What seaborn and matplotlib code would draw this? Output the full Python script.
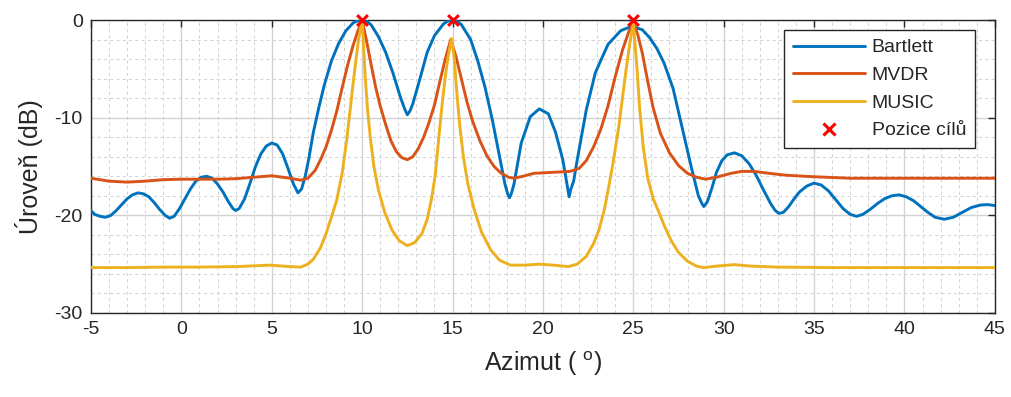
import matplotlib
matplotlib.use("Agg")
import matplotlib.pyplot as plt
from matplotlib.lines import Line2D
from matplotlib.ticker import MultipleLocator
import numpy as np
import pandas as pd
import seaborn as sns

# ---------------- data ----------------
bartlett_az = [-5, -4.8, -4.5, -4.2, -3.9, -3.6, -3.3, -3.0, -2.7, -2.4, -2.1, -1.8, -1.5, -1.2,
               -0.9, -0.65, -0.4, -0.1, 0.2, 0.5, 0.8, 1.1, 1.4, 1.7, 2.0, 2.3, 2.6, 2.85, 3.0,
               3.2, 3.5, 3.8, 4.1, 4.4, 4.7, 5.0, 5.3, 5.6, 5.9, 6.2, 6.45, 6.65, 6.85, 7.05,
               7.3, 7.6, 7.9, 8.3, 8.7, 9.1, 9.5, 9.75, 10, 10.25, 10.5, 10.9, 11.3, 11.7, 12.1,
               12.35, 12.5, 12.65, 12.8, 13.2, 13.6, 14.0, 14.5, 14.75, 15, 15.25, 15.5, 16.0,
               16.4, 16.8, 17.2, 17.6, 17.9, 18.05, 18.15, 18.25, 18.4, 18.8, 19.3, 19.8, 20.3,
               20.7, 21.1, 21.35, 21.45, 21.55, 21.7, 21.9, 22.4, 22.9, 23.6, 24.3, 24.7, 25.0,
               25.5, 25.9, 26.3, 26.7, 27.2, 27.6, 28.2, 28.6, 28.8, 28.9, 29.1, 29.35, 29.6,
               29.9, 30.2, 30.6, 31.0, 31.4, 31.8, 32.2, 32.6, 32.85, 33.05, 33.3, 33.6, 33.9,
               34.2, 34.6, 35.0, 35.4, 35.8, 36.2, 36.6, 37.0, 37.35, 37.7, 38.1, 38.5, 38.9,
               39.3, 39.7, 40.1, 40.5, 40.9, 41.3, 41.7, 42.2, 42.7, 43.2, 43.7, 44.2, 44.6, 45]
bartlett_db = [-19.5, -19.9, -20.1, -20.2, -20.0, -19.5, -18.9, -18.3, -17.9, -17.7, -17.8, -18.1,
               -18.7, -19.4, -20.0, -20.3, -20.1, -19.3, -18.3, -17.3, -16.5, -16.1, -16.0, -16.2,
               -16.8, -17.6, -18.6, -19.3, -19.5, -19.3, -18.3, -16.7, -15.0, -13.7, -12.9, -12.6,
               -12.8, -13.7, -15.2, -16.8, -17.7, -17.3, -16.0, -14.2, -11.5, -9.0, -6.7, -4.2,
               -2.4, -1.1, -0.3, -0.08, 0.0, -0.12, -0.5, -1.7, -3.3, -5.4, -7.8, -9.1, -9.7,
               -9.3, -8.6, -6.0, -3.3, -1.6, -0.4, -0.1, 0.0, -0.12, -0.5, -2.0, -4.2, -6.9,
               -10.2, -14.0, -16.8, -17.8, -18.2, -17.8, -16.8, -12.6, -9.9, -9.1, -9.6, -11.5,
               -14.3, -17.0, -18.1, -17.3, -16.5, -14.3, -9.2, -5.4, -2.5, -1.1, -0.8, -0.7,
               -1.0, -1.8, -2.9, -4.4, -7.0, -10.2, -15.0, -18.0, -18.8, -19.1, -18.6, -17.2,
               -15.6, -14.4, -13.8, -13.6, -13.9, -14.7, -15.9, -17.4, -18.8, -19.5, -19.8, -19.7,
               -19.1, -18.3, -17.6, -17.0, -16.7, -16.9, -17.5, -18.4, -19.3, -19.9, -20.1, -19.9,
               -19.4, -18.8, -18.3, -18.0, -17.9, -18.1, -18.5, -19.1, -19.7, -20.2, -20.4, -20.2,
               -19.7, -19.2, -18.95, -18.9, -19.0]

mvdr_az = [-5, -4, -3, -2, -1, 0, 1, 2, 3, 4, 5, 6, 6.6, 7.0, 7.4, 7.7, 8.0, 8.3, 8.6, 8.9, 9.2,
           9.5, 9.75, 10, 10.25, 10.5, 10.75, 11.0, 11.3, 11.6, 11.9, 12.2, 12.5, 12.8, 13.1,
           13.4, 13.7, 14.0, 14.3, 14.6, 14.9, 15.2, 15.5, 15.8, 16.1, 16.5, 16.9, 17.3, 17.7,
           18.1, 18.4, 18.9, 19.5, 20.5, 21.5, 22.0, 22.4, 22.8, 23.2, 23.6, 24.0, 24.4, 24.75,
           25, 25.25, 25.5, 25.8, 26.1, 26.5, 27.0, 27.5, 28.0, 28.5, 29.0, 29.6, 30.4, 31.0,
           31.7, 32.5, 33.5, 35, 37, 40, 45]
mvdr_db = [-16.2, -16.5, -16.6, -16.5, -16.35, -16.3, -16.3, -16.3, -16.25, -16.1, -15.95, -16.2,
           -16.4, -16.2, -15.4, -14.3, -13.0, -11.3, -9.3, -6.9, -4.6, -2.6, -1.2, 0.0, -2.2,
           -4.6, -6.9, -8.8, -10.7, -12.4, -13.5, -14.1, -14.3, -14.0, -13.2, -12.0, -10.5,
           -8.7, -6.3, -4.0, -2.0, -3.8, -6.1, -8.4, -10.3, -12.3, -13.9, -15.0, -15.7, -16.1,
           -16.2, -16.0, -15.7, -15.6, -15.5, -15.2, -14.4, -13.0, -11.2, -8.8, -5.8, -3.1,
           -1.2, -0.3, -1.5, -3.4, -6.3, -9.0, -11.6, -13.6, -14.9, -15.7, -16.1, -16.3, -16.1,
           -15.7, -15.5, -15.5, -15.7, -15.9, -16.05, -16.2, -16.2, -16.2]

music_az = [-5, -3, -1, 1, 3, 4.9, 6.0, 6.6, 7.0, 7.3, 7.7, 8.0, 8.3, 8.6, 8.9, 9.15, 9.35, 9.5,
            9.65, 9.8, 10, 10.17, 10.3, 10.45, 10.65, 10.9, 11.25, 11.65, 12.05, 12.5, 12.9,
            13.3, 13.6, 13.85, 14.05, 14.3, 14.45, 14.6, 14.75, 14.95, 15.1, 15.24, 15.4, 15.6,
            15.85, 16.2, 16.6, 17.1, 17.6, 18.2, 19.0, 19.8, 20.6, 21.4, 21.9, 22.4, 22.8, 23.1,
            23.4, 23.65, 23.9, 24.2, 24.4, 24.6, 24.8, 25, 25.2, 25.35, 25.55, 25.8, 26.1, 26.4,
            26.7, 27.1, 27.5, 28.0, 28.5, 28.9, 29.6, 30.6, 31.5, 33, 36, 40, 45]
music_db = [-25.35, -25.35, -25.3, -25.3, -25.25, -25.1, -25.25, -25.3, -25.0, -24.5, -23.3,
            -21.9, -20.2, -18.4, -15.6, -12.2, -9.0, -6.5, -4.2, -2.0, 0.0, -5.8, -9.2, -12.0,
            -15.0, -17.4, -19.7, -21.5, -22.6, -23.1, -22.8, -21.9, -20.4, -18.2, -15.8, -10.9,
            -8.2, -5.8, -3.8, -1.9, -4.0, -7.5, -10.8, -14.0, -16.8, -19.4, -21.7, -23.5, -24.6,
            -25.1, -25.1, -25.0, -25.1, -25.25, -25.0, -24.2, -22.9, -21.5, -19.4, -17.0, -14.4,
            -10.9, -8.0, -5.1, -2.5, -0.3, -4.8, -9.0, -13.0, -16.2, -18.3, -19.6, -21.0, -22.6,
            -23.8, -24.7, -25.2, -25.35, -25.2, -25.05, -25.2, -25.3, -25.35, -25.35, -25.35]

target_az = [10, 15, 25]
target_db = [0, 0, 0]

series_names = ["Bartlett", "MVDR", "MUSIC"]
target_name = "Pozice cílů"
xticks = [-5, 0, 5, 10, 15, 20, 25, 30, 35, 40, 45]
yticks = [-30, -20, -10, 0]

# ---------------- style ----------------
sns.set_style("white")
plt.rcParams["font.family"] = ["Liberation Sans", "DejaVu Sans"]
plt.rcParams["mathtext.fontset"] = "custom"
plt.rcParams["mathtext.rm"] = "Liberation Sans"
plt.rcParams["mathtext.it"] = "Liberation Sans"
plt.rcParams["axes.unicode_minus"] = False
plt.rcParams["lines.solid_joinstyle"] = "round"

colors = ["#0072BD", "#D95319", "#EDB120"]
LW = 2.1

df = pd.concat([
    pd.DataFrame({"az": bartlett_az, "db": bartlett_db, "metoda": series_names[0]}),
    pd.DataFrame({"az": mvdr_az, "db": mvdr_db, "metoda": series_names[1]}),
    pd.DataFrame({"az": music_az, "db": music_db, "metoda": series_names[2]}),
], ignore_index=True)
tg = pd.DataFrame({"az": target_az, "db": target_db})

fig = plt.figure(figsize=(10.11, 3.97), dpi=100)
ax = fig.add_axes([0.090, 0.2116, 0.894, 0.738])

for name, c in zip(series_names, colors):
    sns.lineplot(data=df[df["metoda"] == name], x="az", y="db", color=c, linewidth=LW,
                 estimator=None, sort=False, ax=ax, legend=False, zorder=3)
sns.scatterplot(data=tg, x="az", y="db", marker="x", color="#FF0000", s=60, linewidth=2.2,
                ax=ax, legend=False, zorder=5, clip_on=False)

ax.set_xlim(-5, 45)
ax.set_ylim(-30, 0)
ax.set_xticks(xticks)
ax.set_yticks(yticks)
ax.xaxis.set_minor_locator(MultipleLocator(1))
ax.yaxis.set_minor_locator(MultipleLocator(2))
ax.grid(which="major", color="#d2d2d2", lw=1.0, ls="-", zorder=0)
ax.grid(which="minor", color="#d4d4d4", lw=0.75, ls=(0, (3, 3)), zorder=0)
ax.set_axisbelow(True)
ax.tick_params(which="major", direction="in", length=5, width=1, colors="#262626",
               top=True, right=True, labelsize=14, pad=6)
ax.tick_params(which="minor", direction="in", length=0, top=True, right=True)
for s in ax.spines.values():
    s.set_color("#262626")
    s.set_linewidth(1.0)
    s.set_visible(True)

ax.set_xlabel("Azimut ( $^{\\mathrm{o}}$)", fontsize=18, color="#262626", labelpad=8)
ax.set_ylabel("Úroveň (dB)", fontsize=18, color="#262626", labelpad=8)

handles = [Line2D([0], [0], color=c, lw=LW) for c in colors]
handles.append(Line2D([0], [0], color="#FF0000", marker="x", ls="none", ms=8, mew=2.2))
leg = ax.legend(handles, series_names + [target_name], loc="upper right",
                bbox_to_anchor=(0.978, 0.966), borderaxespad=0, fontsize=14,
                handlelength=3.7, handletextpad=0.35, labelspacing=0.52,
                borderpad=0.45, frameon=True, fancybox=False, framealpha=1)
leg.get_frame().set_edgecolor("#262626")
leg.get_frame().set_linewidth(1.0)

fig.savefig("out.png", dpi=100)
